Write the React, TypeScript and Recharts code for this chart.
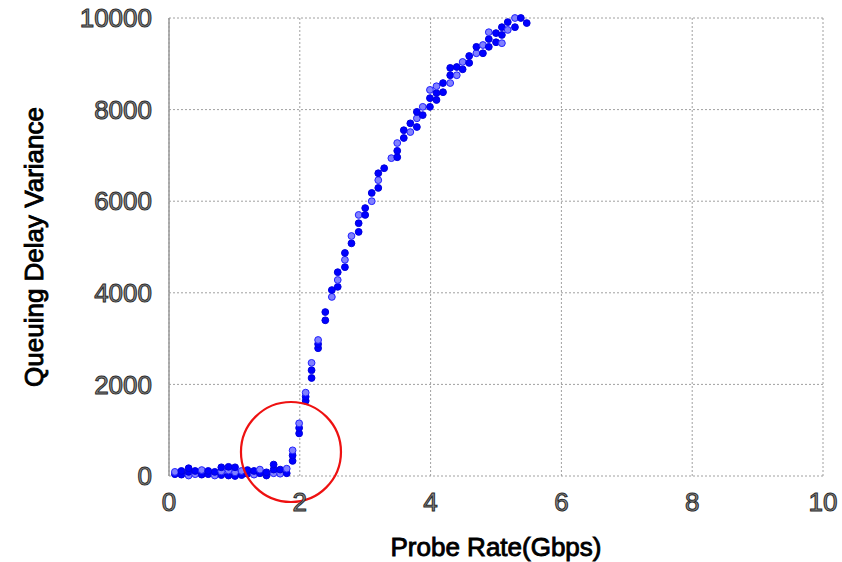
import React from "react";
import {
  CartesianGrid,
  ReferenceDot,
  Scatter,
  ScatterChart,
  XAxis,
  YAxis,
} from "recharts";

// probe rate (Gbps) of each sample
const probeRate = [
  0.09, 0.09, 0.19, 0.19, 0.3, 0.3, 0.3, 0.4, 0.4, 0.5, 0.5, 0.6, 0.6, 0.7, 0.7,
  0.8, 0.8, 0.8, 0.91, 0.91, 0.91, 1.01, 1.01, 1.01, 1.11, 1.11, 1.2, 1.2, 1.3,
  1.3, 1.39, 1.39, 1.49, 1.49, 1.6, 1.6, 1.6, 1.7, 1.7, 1.8, 1.8,
  1.89, 1.89, 1.89, 1.99, 1.99, 1.99, 2.09, 2.09, 2.09,
  2.18, 2.18, 2.18, 2.28, 2.28, 2.28, 2.39, 2.39, 2.49, 2.49, 2.58, 2.58, 2.58,
  2.69, 2.69, 2.69, 2.79, 2.79, 2.9, 2.9, 2.9, 3.0, 3.0, 3.1, 3.1, 3.2, 3.2, 3.2,
  3.29, 3.4, 3.49, 3.49, 3.49, 3.59, 3.59, 3.69, 3.69, 3.79, 3.79, 3.79, 3.88,
  3.88, 3.99, 3.99, 3.99, 4.09, 4.09, 4.09, 4.19, 4.19, 4.3, 4.3, 4.3, 4.4, 4.4,
  4.49, 4.49, 4.59, 4.59, 4.7, 4.7, 4.8, 4.8, 4.89, 4.89, 4.89, 5.0, 5.0, 5.09,
  5.09, 5.09, 5.18, 5.18, 5.29, 5.29, 5.38, 5.47,
];

// queuing delay variance of each sample
const delayVariance = [
  40, 90, 30, 110, 10, 90, 170, 40, 110, 30, 130, 40, 110, 10, 90,
  20, 100, 190, 10, 120, 200, 0, 80, 190, 20, 110, 50, 130, 30,
  110, 60, 140, 10, 80, 60, 140, 250, 50, 140, 60, 160,
  330, 450, 560, 930, 1050, 1150, 1640, 1730, 1820,
  2140, 2310, 2470, 2790, 2880, 2970, 3400, 3580, 3910, 4060, 4130, 4280, 4450,
  4560, 4720, 4870, 5080, 5240, 5330, 5520, 5700, 5700, 5850, 6000, 6180, 6290, 6460, 6610,
  6720, 6940, 6960, 7100, 7270, 7380, 7550, 7510, 7700, 7620, 7810, 7950, 7880,
  8060, 8060, 8250, 8430, 8210, 8360, 8510, 8380, 8580, 8580, 8750, 8910, 8750, 8930,
  8880, 9040, 9020, 9170, 9230, 9370, 9230, 9410, 9370, 9540, 9690, 9470, 9670, 9450,
  9630, 9800, 9740, 9910, 9800, 10000, 10000, 9890,
];

const xTicks = [0, 2, 4, 6, 8, 10];
const yTicks = [0, 2000, 4000, 6000, 8000, 10000];

// highlighted knee of the curve
const kneeRate = 1.865;
const kneeVariance = 524;

const data = probeRate.map((x, i) => ({ x, y: delayVariance[i] }));

const font = "'Liberation Sans', Arial, sans-serif";

const tickStyle = {
  fill: "#8c8c8c",
  stroke: "#2a2a2a",
  strokeWidth: 1,
  fontSize: 26,
  fontFamily: font,
};

const labelStyle = {
  fill: "#000",
  stroke: "#000",
  strokeWidth: 0.9,
  fontSize: 26,
  fontFamily: font,
};

function Dot(props: any) {
  const { cx, cy, index } = props;
  const light = index % 3 === 1;
  return (
    <circle
      cx={cx}
      cy={cy}
      r={3.4}
      fill={light ? "#8080ff" : "#0000ff"}
      stroke={light ? "#2222ff" : "#0000dd"}
      strokeWidth={1}
    />
  );
}

export default function App() {
  return (
    <div style={{ position: "absolute", left: 0, top: 0, background: "#fff" }}>
      <ScatterChart
        width={842}
        height={562}
        margin={{ top: 18, right: 19, left: 0, bottom: 0 }}
      >
        <CartesianGrid stroke="#a0a0a0" strokeDasharray="2 2" />
        <XAxis
          type="number"
          dataKey="x"
          domain={[0, 10]}
          ticks={xTicks}
          axisLine={false}
          tickLine={false}
          tickSize={0}
          tickMargin={17}
          height={86}
          tick={tickStyle}
          label={{
            value: "Probe Rate(Gbps)",
            position: "insideBottom",
            offset: 6,
            style: labelStyle,
          }}
        />
        <YAxis
          type="number"
          dataKey="y"
          domain={[0, 10000]}
          ticks={yTicks}
          axisLine={{ stroke: "#999", strokeWidth: 1.5 }}
          tickLine={false}
          tickSize={0}
          tickMargin={17}
          width={169}
          tick={tickStyle}
          label={{
            value: "Queuing Delay Variance",
            angle: -90,
            position: "center",
            dx: -51,
            style: labelStyle,
          }}
        />
        <Scatter data={data} shape={<Dot />} isAnimationActive={false} />
        <ReferenceDot
          x={kneeRate}
          y={kneeVariance}
          r={50}
          fill="none"
          stroke="#ee1111"
          strokeWidth={2.2}
        />
      </ScatterChart>
    </div>
  );
}
